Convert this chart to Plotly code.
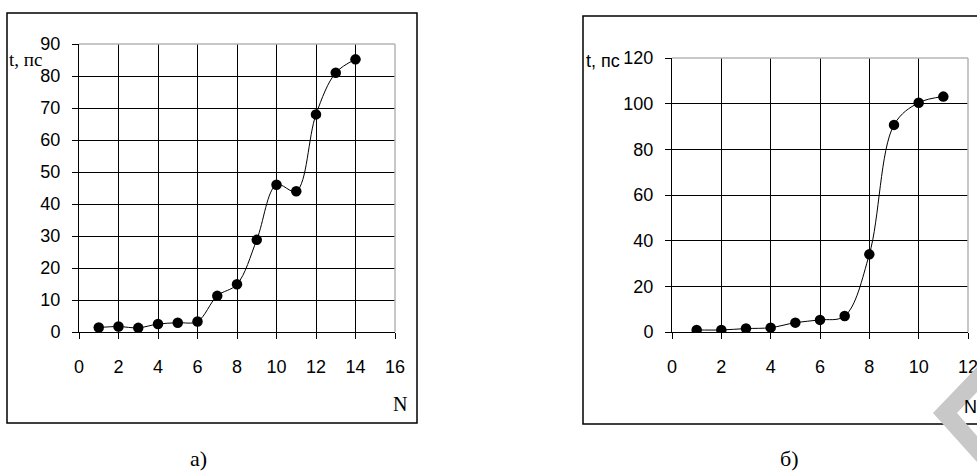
import plotly.graph_objects as go

# ---- data ----
n_a = [1, 2, 3, 4, 5, 6, 7, 8, 9, 10, 11, 12, 13, 14]
t_a = [1.4, 1.7, 1.3, 2.5, 2.9, 3.3, 11.3, 14.9, 28.8, 46, 44, 68, 81, 85.2]
n_b = [1, 2, 3, 4, 5, 6, 7, 8, 9, 10, 11]
t_b = [0.9, 0.9, 1.5, 1.9, 4.1, 5.3, 7.0, 34, 90.7, 100.4, 103.1]

y_label = "t, пс"
x_label = "N"
cap_a = "а)"
cap_b = "б)"

W, H = 977, 471


def px(x):
    return x / W


def py(y):
    return 1 - y / H


fig = go.Figure()

line_style = dict(color="black", width=1, shape="spline")
marker_style = dict(color="black", size=10.5)

fig.add_trace(go.Scatter(x=n_a, y=t_a, mode="lines+markers", line=line_style,
                         marker=marker_style, xaxis="x", yaxis="y", showlegend=False,
                         hoverinfo="skip"))
fig.add_trace(go.Scatter(x=n_b, y=t_b, mode="lines+markers", line=line_style,
                         marker=marker_style, xaxis="x2", yaxis="y2", showlegend=False,
                         hoverinfo="skip"))

tick_font = dict(family="Liberation Sans, Arial", size=18, color="black")
common_x = dict(showline=True, linecolor="black", linewidth=1, ticks="outside", ticklen=6,
                tickcolor="black", showgrid=True, gridcolor="black", gridwidth=1,
                zeroline=False, tickfont=tick_font, ticklabelstandoff=12, fixedrange=True,
                automargin=False, ticklabeloverflow="allow")
common_y = dict(showline=True, linecolor="black", linewidth=1, ticks="outside", ticklen=6,
                tickcolor="black", showgrid=True, gridcolor="black", gridwidth=1,
                zeroline=False, tickfont=tick_font, ticklabelstandoff=8, fixedrange=True,
                automargin=False, ticklabeloverflow="allow")

fig.update_layout(
    template="none",
    width=W, height=H,
    margin=dict(l=0, r=0, t=0, b=0, pad=0, autoexpand=False),
    paper_bgcolor="white", plot_bgcolor="white",
    hovermode=False,
    xaxis=dict(domain=[px(79), px(395)], range=[0, 16], dtick=2, tick0=0, anchor="y", **common_x),
    yaxis=dict(domain=[py(332), py(44)], range=[0, 90], dtick=10, tick0=0, anchor="x", **common_y),
    xaxis2=dict(domain=[px(672), px(968)], range=[0, 12], dtick=2, tick0=0, anchor="y2", **common_x),
    yaxis2=dict(domain=[py(332), py(58)], range=[0, 120], dtick=20, tick0=0, anchor="x2", **common_y),
)

shapes = []
# outer frames
shapes.append(dict(type="rect", xref="paper", yref="paper", x0=px(7), x1=px(417), y0=py(423), y1=py(13),
                   line=dict(color="black", width=1.5), layer="below"))
shapes.append(dict(type="rect", xref="paper", yref="paper", x0=px(583), x1=px(995), y0=py(424), y1=py(16),
                   line=dict(color="black", width=1.5), layer="below"))
# gray plot-area border (top and right)
for xr, yr in (("x", "y"), ("x2", "y2")):
    shapes.append(dict(type="line", xref=xr + " domain", yref=yr + " domain", x0=0, x1=1, y0=1, y1=1,
                       line=dict(color="#b4b4b4", width=1.5), layer="above"))
    shapes.append(dict(type="line", xref=xr + " domain", yref=yr + " domain", x0=1, x1=1, y0=0, y1=1,
                       line=dict(color="#b4b4b4", width=1.5), layer="above"))
# watermark chevron
pts = [(933, 413), (977, 367), (977, 392), (957, 413), (977, 436), (977, 462)]
path = "M " + " L ".join(f"{px(x):.5f},{py(y):.5f}" for x, y in pts) + " Z"
shapes.append(dict(type="path", xref="paper", yref="paper", path=path,
                   fillcolor="#c8c8c8", line=dict(width=0), layer="above"))
fig.update_layout(shapes=shapes)

serif = "Liberation Serif, Times New Roman"
sans = "Liberation Sans, Arial"
ann = []
ann.append(dict(text=y_label, x=px(25), y=py(60), font=dict(family=serif, size=19, color="black")))
ann.append(dict(text=x_label, x=px(400), y=py(404), font=dict(family=serif, size=20, color="black")))
ann.append(dict(text=y_label, x=px(603), y=py(61), font=dict(family=sans, size=18, color="black")))
ann.append(dict(text=x_label, x=px(970), y=py(407), font=dict(family=sans, size=18, color="black")))
ann.append(dict(text=cap_a, x=px(198), y=py(458), font=dict(family=serif, size=22, color="black")))
ann.append(dict(text=cap_b, x=px(789), y=py(458), font=dict(family=serif, size=22, color="black")))
for a in ann:
    a.update(xref="paper", yref="paper", showarrow=False, xanchor="center", yanchor="middle")
fig.update_layout(annotations=ann)

fig.write_html(
    "out.html",
    config={"displayModeBar": False, "staticPlot": True},
    post_script=(
        "document.documentElement.style.margin='0';"
        "document.body.style.margin='0';document.body.style.padding='0';"
        "document.body.style.overflow='hidden';"
        "document.documentElement.style.overflow='hidden';"
        "var d=document.getElementById('{plot_id}');"
        "d.style.position='fixed';d.style.left='0px';d.style.top='0px';"
    ),
)
